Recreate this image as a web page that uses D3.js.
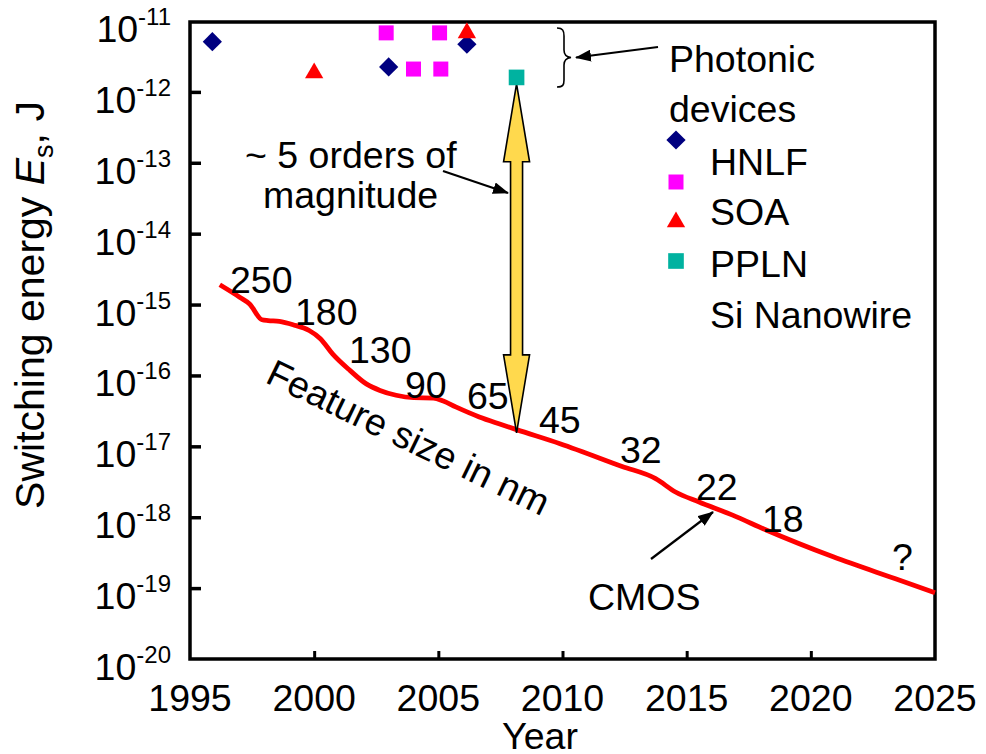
<!DOCTYPE html>
<html>
<head>
<meta charset="utf-8">
<script src="https://cdn.jsdelivr.net/npm/d3@7"></script>
<style>
  html, body { margin: 0; padding: 0; background: #fff; }
  svg { display: block; font-family: "Liberation Sans", Arial, Helvetica, sans-serif; }
</style>
</head>
<body>
<svg id="chart" width="986" height="754"></svg>
<script>
// ---- data -------------------------------------------------------------
const yearTicks = [1995, 2000, 2005, 2010, 2015, 2020, 2025];
const energyExponents = [-11, -12, -13, -14, -15, -16, -17, -18, -19, -20];

// CMOS switching energy trend
const cmosYears  = [1996.2, 1997.0, 1997.4, 1997.9, 1998.15, 1998.6, 1999.15, 1999.8, 2000.25, 2000.75,
                    2001.45, 2002.1, 2002.65, 2003.3, 2004.0, 2004.8, 2005.2, 2005.7, 2006.65, 2007.5,
                    2008.15, 2009.9, 2012.4, 2013.75, 2014.55, 2015.5, 2016.85, 2018.2, 2020.9, 2023.55, 2025.0];
const cmosEnergy = [1.9e-15, 1.27e-15, 1.02e-15, 6.1e-16, 5.95e-16, 5.8e-16, 5.2e-16, 4.3e-16, 3.3e-16, 2.0e-16,
                    1.17e-16, 7.6e-17, 6.15e-17, 5.25e-17, 4.85e-17, 4.8e-17, 4.35e-17, 3.6e-17, 2.6e-17, 2.05e-17,
                    1.72e-17, 1.09e-17, 5.2e-18, 3.5e-18, 2.27e-18, 1.64e-18, 1.07e-18, 6.6e-19, 2.76e-19, 1.3e-19, 8.6e-20];

// technology node labels along the CMOS curve
const nodeLabels = ["250", "180", "130", "90", "65", "45", "32", "22", "18", "?"];

// photonic devices
const seriesNames = ["HNLF", "SOA", "PPLN", "Si Nanowire"];
const hnlfYears  = [1995.9, 2003.0, 2006.15];
const hnlfEnergy = [5.1e-12, 2.25e-12, 4.7e-12];
const soaYears   = [2002.9, 2005.05, 2004.0, 2005.1];
const soaEnergy  = [6.8e-12, 6.8e-12, 2.1e-12, 2.1e-12];
const pplnYears  = [2000.0, 2006.15];
const pplnEnergy = [1.85e-12, 6.8e-12];
const siYears    = [2008.15];
const siEnergy   = [1.6e-12];

// span of the "~5 orders of magnitude" arrow
const gapYear = 2008.15;
const gapTop = 1.3e-12;
const gapBottom = 1.55e-17;

// ---- layout -----------------------------------------------------------
const svg = d3.select("#chart");
const X0 = 190, X1 = 935, Y0 = 21, Y1 = 659;
const FS = 37.5;

const x = d3.scaleLinear().domain([1995, 2025]).range([X0, X1]);
const y = d3.scaleLog().domain([1e-11, 1e-20]).range([Y0, Y1]);

const defs = svg.append("defs");
defs.append("marker")
  .attr("id", "head").attr("viewBox", "0 0 16 12")
  .attr("refX", 15).attr("refY", 6)
  .attr("markerWidth", 16).attr("markerHeight", 12)
  .attr("markerUnits", "userSpaceOnUse").attr("orient", "auto")
  .append("path").attr("d", "M0,0 L16,6 L0,12 Z").attr("fill", "#000");

// axes (ticks point inward)
const xAxis = d3.axisBottom(x).tickValues(yearTicks.slice(1, -1)).tickSize(-8).tickFormat("");
svg.append("g").attr("transform", `translate(0,${Y1})`).call(xAxis)
  .call(g => g.select(".domain").remove())
  .call(g => g.selectAll("line").attr("stroke", "#000").attr("stroke-width", 3));

const yAxis = d3.axisLeft(y).tickValues(energyExponents.slice(1, -1).map(e => Math.pow(10, e))).tickSize(-11).tickFormat("");
svg.append("g").attr("transform", `translate(${X0},0)`).call(yAxis)
  .call(g => g.select(".domain").remove())
  .call(g => g.selectAll("line").attr("stroke", "#000").attr("stroke-width", 3.5));

// frame
svg.append("rect")
  .attr("x", X0).attr("y", Y0 + 1).attr("width", X1 - X0).attr("height", Y1 - Y0 - 1)
  .attr("fill", "none").attr("stroke", "#000").attr("stroke-width", 3.5);

// x tick labels
svg.append("g").selectAll("text").data(yearTicks).join("text")
  .attr("x", d => x(d)).attr("y", 711)
  .attr("text-anchor", "middle").attr("font-size", FS)
  .text(d => d);

// y tick labels: 10 with superscript exponent
const yl = svg.append("g").selectAll("text").data(energyExponents).join("text")
  .attr("x", 171).attr("y", d => y(Math.pow(10, d)) + 21)
  .attr("text-anchor", "end").attr("font-size", FS);
yl.append("tspan").text("10");
yl.append("tspan").attr("dy", -17).attr("font-size", 24).text(d => d);

// axis titles
svg.append("text").attr("x", 540).attr("y", 749)
  .attr("text-anchor", "middle").attr("font-size", FS).text("Year");

const yt = svg.append("text")
  .attr("transform", "translate(44,305) rotate(-90)")
  .attr("text-anchor", "middle").attr("font-size", 41);
yt.append("tspan").text("Switching energy ");
yt.append("tspan").attr("font-style", "italic").text("E");
yt.append("tspan").attr("dy", 9).attr("font-size", 27).text("s");
yt.append("tspan").attr("dy", -9).text(", J");

// CMOS trend line
const cmos = cmosYears.map((d, i) => [d, cmosEnergy[i]]);
svg.append("path").datum(cmos)
  .attr("fill", "none").attr("stroke", "#ff0000").attr("stroke-width", 4.8)
  .attr("stroke-linejoin", "round")
  .attr("d", d3.line().x(d => x(d[0])).y(d => y(d[1])).curve(d3.curveMonotoneX));

// node labels
const nodePos = [[230, 293], [295, 325], [349, 363], [405, 398], [467, 409], [539, 433],
                 [620, 463], [696, 500], [762, 532], [892, 570]];
svg.append("g").selectAll("text").data(nodeLabels).join("text")
  .attr("x", (d, i) => nodePos[i][0]).attr("y", (d, i) => nodePos[i][1])
  .attr("font-size", FS).text(d => d);

svg.append("text").attr("transform", "translate(264,382) rotate(25.8)")
  .attr("font-size", FS).text("Feature size in nm");

// CMOS callout
svg.append("text").attr("x", 588).attr("y", 610).attr("font-size", FS).text("CMOS");
svg.append("line").attr("x1", 651).attr("y1", 559).attr("x2", 713).attr("y2", 512)
  .attr("stroke", "#000").attr("stroke-width", 2.2).attr("marker-end", "url(#head)");

// yellow double arrow spanning the energy gap
const ax = x(gapYear), at = y(gapTop), ab = y(gapBottom);
const HL = 78, HW = 13, SW = 6;
svg.append("path")
  .attr("d", `M${ax},${at} L${ax + HW},${at + HL} L${ax + SW},${at + HL} L${ax + SW},${ab - HL} L${ax + HW},${ab - HL}
              L${ax},${ab} L${ax - HW},${ab - HL} L${ax - SW},${ab - HL} L${ax - SW},${at + HL} L${ax - HW},${at + HL} Z`)
  .attr("fill", "#ffd94d").attr("stroke", "#000").attr("stroke-width", 1.6).attr("stroke-linejoin", "miter");

svg.append("text").attr("x", 245).attr("y", 168).attr("font-size", FS).text("~ 5 orders of");
svg.append("text").attr("x", 263).attr("y", 208).attr("font-size", FS).text("magnitude");
svg.append("line").attr("x1", 443).attr("y1", 171).attr("x2", 508).attr("y2", 193)
  .attr("stroke", "#000").attr("stroke-width", 2.2).attr("marker-end", "url(#head)");

// photonic device markers
const sym = (type, size, rot) => ({ path: d3.symbol().type(type).size(size)(), rot });
const styles = [
  { name: seriesNames[0], color: "#000080", ...sym(d3.symbolSquare, 185, 45), years: hnlfYears, vals: hnlfEnergy },
  { name: seriesNames[1], color: "#ff00ff", ...sym(d3.symbolSquare, 225, 0), years: soaYears, vals: soaEnergy },
  { name: seriesNames[2], color: "#ff0000", ...sym(d3.symbolTriangle, 145, 0), years: pplnYears, vals: pplnEnergy },
  { name: seriesNames[3], color: "#00b2a0", ...sym(d3.symbolSquare, 245, 0), years: siYears, vals: siEnergy }
];
styles.forEach(s => {
  svg.append("g").selectAll("path").data(s.years).join("path")
    .attr("d", s.path).attr("fill", s.color)
    .attr("transform", (d, i) => `translate(${x(d)},${y(s.vals[i])}) rotate(${s.rot})`);
});

// legend block
svg.append("text").attr("x", 669).attr("y", 72).attr("font-size", FS).text("Photonic");
svg.append("text").attr("x", 669).attr("y", 122).attr("font-size", FS).text("devices");
const legMarkY = [140, 182, 222, 261];
const legTextY = [175, 225, 277, 328];
styles.forEach((s, i) => {
  svg.append("path").attr("d", s.path).attr("fill", s.color)
    .attr("transform", `translate(676,${legMarkY[i]}) rotate(${s.rot})`);
  svg.append("text").attr("x", 710).attr("y", legTextY[i]).attr("font-size", FS).text(s.name);
});

// brace with pointer
svg.append("path")
  .attr("d", "M557,28 C563,28 564,31 564,36 L564,50 C564,55 566,57 571,57.5 C566,58 564,60 564,65 L564,80 C564,85 563,87 557,87")
  .attr("fill", "none").attr("stroke", "#000").attr("stroke-width", 1.6);
svg.append("line").attr("x1", 658).attr("y1", 47).attr("x2", 576).attr("y2", 57.5)
  .attr("stroke", "#000").attr("stroke-width", 2.2).attr("marker-end", "url(#head)");
</script>
</body>
</html>
